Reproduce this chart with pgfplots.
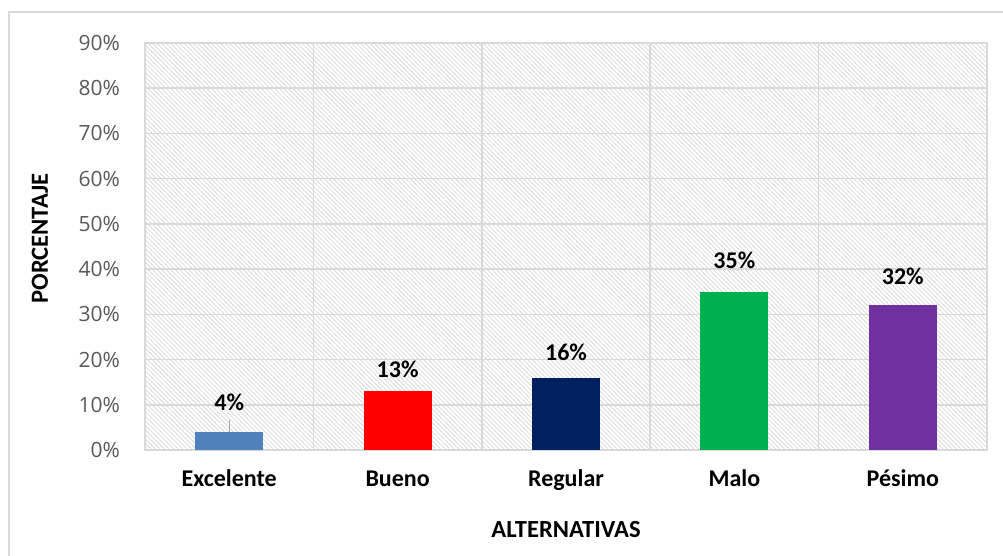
\documentclass[border=0pt]{standalone}
\usepackage{pgfplots}
\pgfplotsset{compat=1.18}
\usepackage{pgfplotstable}
\usetikzlibrary{patterns.meta}
\usepackage{fontspec}
\setmainfont{Carlito}
\newfontfamily\tickfont{Open Sans}
\definecolor{gridc}{HTML}{D9D9D9}
\definecolor{tickc}{HTML}{595959}
\definecolor{cA}{HTML}{4F81BD}
\definecolor{cB}{HTML}{FF0000}
\definecolor{cC}{HTML}{002060}
\definecolor{cD}{HTML}{00B050}
\definecolor{cE}{HTML}{7030A0}
\pgfplotstableread{
x y off
0 4 7
}\tA
\pgfplotstableread{
x y off
1 13 3
}\tB
\pgfplotstableread{
x y off
2 16 5
}\tC
\pgfplotstableread{
x y off
3 35 8
}\tD
\pgfplotstableread{
x y off
4 32 7
}\tE
\begin{document}
\begin{tikzpicture}
\useasboundingbox (0,0) rectangle (501.5pt,278pt);
\clip (0,0) rectangle (501.5pt,278pt);
\draw[gridc, line width=0.8pt] (4.5pt,-10pt) -- (4.5pt,272pt) -- (520pt,272pt);
\begin{axis}[
  at={(72.5pt,53pt)}, anchor=south west,
  scale only axis, width=421pt, height=203.5pt,
  /pgf/number format/assume math mode=true,
  ymin=0, ymax=90, xmin=-0.5, xmax=4.5,
  ytick={0,10,...,90},
  yticklabel={\pgfmathprintnumber{\tick}\%},
  yticklabel style={font=\tickfont\fontsize{10.5}{12}\selectfont, text=tickc, xshift=-9pt},
  xtick={0,1,2,3,4},
  xticklabels={Excelente,Bueno,Regular,Malo,Pésimo},
  xticklabel style={font=\bfseries\fontsize{12}{14}\selectfont, anchor=base, yshift=-18.5pt},
  minor xtick={0.5,1.5,2.5,3.5},
  ymajorgrids, xminorgrids,
  major tick length=0pt, minor tick length=0pt,
  grid style={gridc, line width=0.8pt},
  minor grid style={gridc, line width=0.8pt},
  axis line style={gridc, line width=0.8pt},
  axis background/.style={pattern={Lines[angle=-45,distance=1.6pt,line width=0.4pt]}, pattern color=gridc},
  xlabel={ALTERNATIVAS}, ylabel={PORCENTAJE},
  every axis x label/.style={at={(axis description cs:0.5,0)}, anchor=center, yshift=-40pt, font=\bfseries\fontsize{12.3}{14}\selectfont},
  every axis y label/.style={at={(axis description cs:0,0.5)}, anchor=center, rotate=90, yshift=52.5pt, xshift=4pt, font=\bfseries\fontsize{12.3}{14}\selectfont},
  ybar, bar width=34pt, bar shift=0pt,
  nodes near coords={\pgfmathprintnumber{\pgfplotspointmeta}\%},
  visualization depends on={\thisrow{off} \as \off},
  every node near coord/.append style={font=\bfseries\fontsize{12}{14}\selectfont, anchor=south, yshift=\off pt},
]
\addplot[fill=cA, draw=none] table[x=x,y=y] {\tA};
\addplot[fill=cB, draw=none] table[x=x,y=y] {\tB};
\addplot[fill=cC, draw=none] table[x=x,y=y] {\tC};
\addplot[fill=cD, draw=none] table[x=x,y=y] {\tD};
\addplot[fill=cE, draw=none] table[x=x,y=y] {\tE};
\draw[gray!70, line width=0.6pt] (axis cs:0,4) -- (axis cs:0,6.6);
\end{axis}
\end{tikzpicture}
\end{document}
